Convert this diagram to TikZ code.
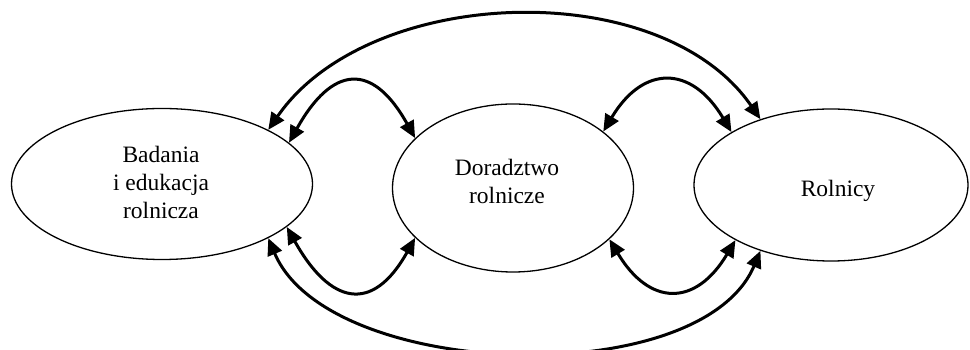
\documentclass[tikz,border=0pt]{standalone}
\usepackage{fontspec}
\setmainfont{Liberation Serif}
\usetikzlibrary{arrows.meta,shapes.geometric}
\begin{document}
\begin{tikzpicture}[x=1pt,y=1pt,
  blob/.style={ellipse,draw,line width=1.3pt,inner sep=0pt},
  lbl/.style={align=center,inner sep=0pt,font=\fontsize{23.5}{28}\selectfont},
  link/.style={line width=3pt,{Triangle[length=17pt,width=15pt]}-{Triangle[length=17pt,width=15pt]}}]
\useasboundingbox (0,0) rectangle (970,350);
\node[blob,minimum width=301pt,minimum height=151pt] (L) at (162,166) {};
\node[blob,minimum width=241pt,minimum height=168pt] (M) at (513,162) {};
\node[blob,minimum width=274pt,minimum height=152pt] (R) at (831,165) {};
\node[lbl] (Lt) at (161,168) {Badania\\i edukacja\\rolnicza};
\node[lbl] (Mt) at (507,169) {Doradztwo\\rolnicze};
\node[lbl,anchor=base] (Rt) at (838,153) {Rolnicy};
% top big
\draw[link] (L.27) .. controls +(100,145) and +(-100,145) .. (R.137);
% upper small
\draw[link] (L.18) .. controls +(43,77) and +(-43,77) .. (M.153);
\draw[link] (M.32) .. controls +(40,67) and +(-40,67) .. (R.152);
% lower small
\draw[link] (L.-19) .. controls +(43,-77) and +(-43,-77) .. (M.207);
\draw[link] (M.-28) .. controls +(40,-67) and +(-40,-67) .. (R.210);
% bottom big
\draw[link] (L.-27) .. controls +(60,-142) and +(-60,-142) .. (R.223);
\end{tikzpicture}
\end{document}
